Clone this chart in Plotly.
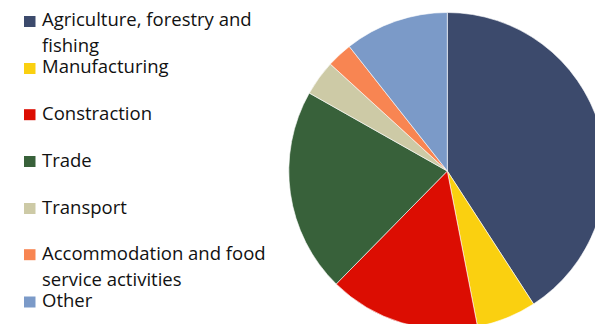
import plotly.graph_objects as go

# Sector shares (%)
sectors = [
    "Agriculture, forestry and fishing",
    "Manufacturing",
    "Constraction",
    "Trade",
    "Transport",
    "Accommodation and food service activities",
    "Other",
]
shares = [40.8, 6.1, 15.4, 20.8, 3.6, 2.6, 10.6]
colors = ["#3C4A6C", "#FAD010", "#DC0D02", "#38613A", "#CDCAA6", "#F88552", "#7B9AC8"]

# Legend text split into display lines
legend_lines = [
    ["Agriculture, forestry and", "fishing"],
    ["Manufacturing"],
    ["Constraction"],
    ["Trade"],
    ["Transport"],
    ["Accommodation and food", "service activities"],
    ["Other"],
]

W, H = 610, 332          # canvas; the pie runs slightly past the visible window
CX, CY, R = 447.3, 171.0, 158.5

def px_x(x):
    return x / W

def px_y(y):
    return 1 - y / H

fig = go.Figure(
    go.Pie(
        labels=sectors,
        values=shares,
        sort=False,
        direction="clockwise",
        rotation=0,
        marker=dict(colors=colors, line=dict(color="white", width=0.6)),
        textinfo="none",
        showlegend=False,
        domain=dict(x=[px_x(CX - R), px_x(CX + R)], y=[px_y(CY + R), px_y(CY - R)]),
    )
)

# Hand-laid legend: colour square + one annotation per text line
marker_y = [21.5, 68.5, 114.7, 161.5, 208.5, 254.7, 302.0]
text_y = [18.8, 65.6, 112.5, 159.3, 206.4, 252.7, 299.6]
line_gap = 25.3
font = dict(family="Open Sans", size=18.5, color="#111111")
annotations = []
shapes = []
for lines, color, my, ty in zip(legend_lines, colors, marker_y, text_y):
    shapes.append(dict(
        type="rect", xref="paper", yref="paper",
        x0=px_x(24), x1=px_x(35.5), y0=px_y(my + 5.5), y1=px_y(my - 5.5),
        fillcolor=color, line=dict(width=0),
    ))
    for i, txt in enumerate(lines):
        annotations.append(dict(
            text=txt, xref="paper", yref="paper",
            x=px_x(39.5), y=px_y(ty + i * line_gap),
            xanchor="left", yanchor="middle", showarrow=False, font=font,
        ))

fig.update_layout(
    width=W, height=H,
    margin=dict(l=0, r=0, t=0, b=0, pad=0),
    paper_bgcolor="white", plot_bgcolor="white",
    annotations=annotations, shapes=shapes,
)

fig.write_html(
    "out.html",
    config=dict(displayModeBar=False),
    post_script="document.documentElement.style.overflow='hidden';document.body.style.overflow='hidden';document.body.style.margin='0';",
)
